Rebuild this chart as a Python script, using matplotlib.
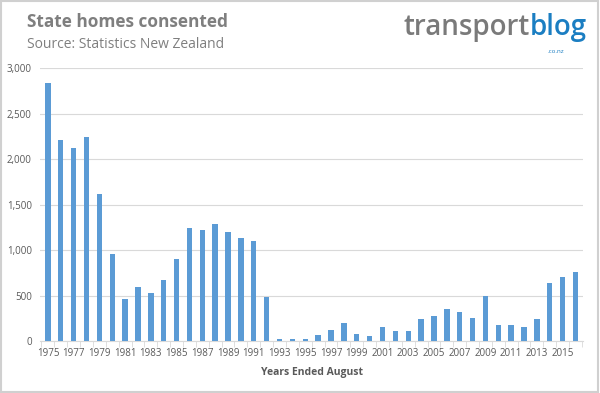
import matplotlib
matplotlib.use("Agg")
import matplotlib.pyplot as plt
from matplotlib.patches import Rectangle
from matplotlib.ticker import FuncFormatter, FixedLocator

years = list(range(1975, 2017))
homes = [2836, 2205, 2118, 2238, 1611, 962, 467, 590, 525, 674,
         904, 1247, 1217, 1290, 1199, 1134, 1097, 485, 25, 25,
         25, 62, 120, 204, 73, 51, 153, 109, 106, 248,
         277, 350, 317, 252, 492, 182, 175, 153, 241, 642,
         700, 762]
y_ticks = [0, 500, 1000, 1500, 2000, 2500, 3000]

plt.rcParams["font.family"] = ["Open Sans", "DejaVu Sans"]
grey = "#7f7f7f"
label_grey = "#595959"

fig = plt.figure(figsize=(6, 3.93), dpi=100)
fig.patches.append(Rectangle((0.002, 0.003), 0.995, 0.994, transform=fig.transFigure,
                             fill=False, edgecolor="#d0d0d0", linewidth=1.5))
ax = fig.add_axes([0.067, 0.132, 0.905, 0.695])

x = list(range(len(years)))
ax.bar(x, homes, width=0.42, color="#5b9bd5", zorder=3)

ax.set_xlim(-0.6, len(years) - 0.4)
ax.set_ylim(0, 3000)
ax.set_yticks(y_ticks)
ax.yaxis.set_major_formatter(FuncFormatter(lambda v, p: f"{int(v):,}"))
ax.grid(axis="y", color="#d9d9d9", linewidth=0.8, zorder=0)

ax.set_xticks(x[::2])
ax.set_xticklabels([str(y) for y in years[::2]])
ax.xaxis.set_minor_locator(FixedLocator([i - 0.5 for i in range(len(years) + 1)]))
ax.tick_params(axis="x", which="major", length=0, labelsize=7, colors=label_grey, pad=5)
ax.tick_params(axis="x", which="minor", length=4, color="#d9d9d9")
ax.tick_params(axis="y", length=0, labelsize=7, colors=label_grey, pad=6)

for s in ["top", "right", "left"]:
    ax.spines[s].set_visible(False)
ax.spines["bottom"].set_color("#d9d9d9")

ax.set_xlabel("Years Ended August", fontsize=7.5, fontweight="bold", color=label_grey, labelpad=6)

fig.text(0.045, 0.945, "State homes consented", fontsize=12.4, fontweight="bold",
         color=grey, va="center", ha="left")
fig.text(0.045, 0.887, "Source: Statistics New Zealand", fontsize=10,
         color=grey, va="center", ha="left")

t1 = fig.text(0.673, 0.93, "transport", fontsize=20, fontweight="semibold",
              color="#7a7a7a", va="center", ha="left")
fig.canvas.draw()
bb = t1.get_window_extent().transformed(fig.transFigure.inverted())
fig.text(bb.x1, 0.93, "blog", fontsize=20, fontweight="semibold",
         color="#1b7ec2", va="center", ha="left")
fig.text(0.94, 0.87, ".co.nz", fontsize=4.5, color="#1b7ec2", va="center", ha="right")

fig.savefig("out.png", dpi=100)
